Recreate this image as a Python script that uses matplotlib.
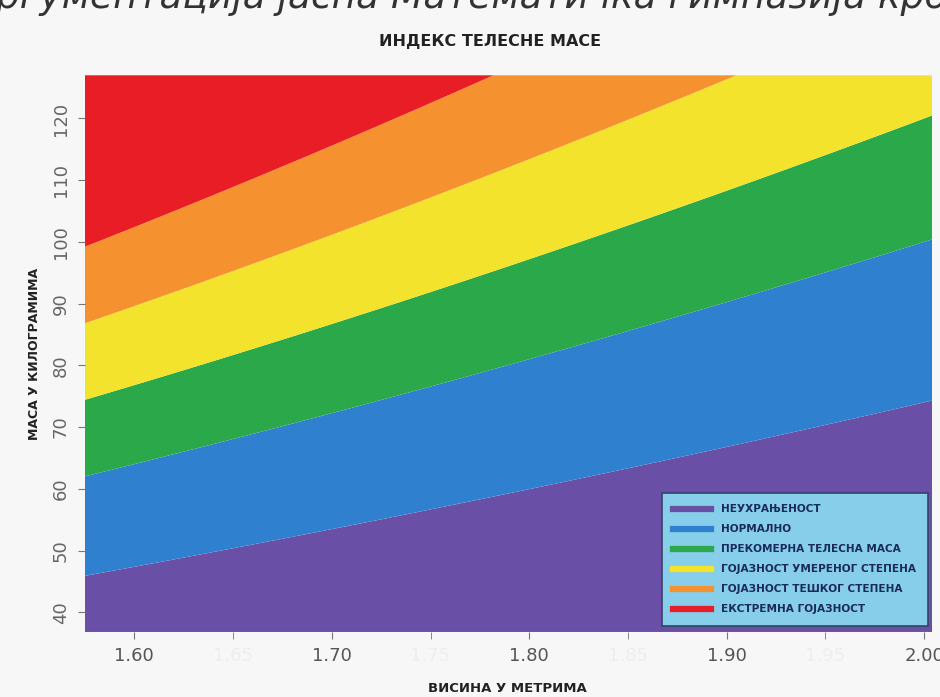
import numpy as np
import matplotlib
matplotlib.use("Agg")
import matplotlib.pyplot as plt
from matplotlib.lines import Line2D

# granice BMI kategorija
bmi_granice = [0, 18.5, 25, 30, 35, 40, 100]
kategorije = ["НЕУХРАЊЕНОСТ", "НОРМАЛНО", "ПРЕКОМЕРНА ТЕЛЕСНА МАСА",
              "ГОЈАЗНОСТ УМЕРЕНОГ СТЕПЕНА", "ГОЈАЗНОСТ ТЕШКОГ СТЕПЕНА",
              "ЕКСТРЕМНА ГОЈАЗНОСТ"]
boje = ["#6a4fa6", "#2f80cf", "#2aa84a", "#f3e32c", "#f5922f", "#e81d26"]

x_ticks = [1.60, 1.70, 1.80, 1.90, 2.00]
x_minor = [1.65, 1.75, 1.85, 1.95]
y_ticks = [40, 50, 60, 70, 80, 90, 100, 110, 120]

xmin, xmax = 1.575, 2.004
ymin, ymax = 36.8, 127.0

fig = plt.figure(figsize=(9.4, 6.97), dpi=100)
fig.patch.set_facecolor("#f7f7f7")
ax = fig.add_axes([0.0904, 0.0933, 0.9011, 0.7987])

# mreza visina x masa, pa BMI = m / h^2
H, M = np.meshgrid(np.linspace(xmin, xmax, 300), np.linspace(ymin, ymax, 300))
bmi = M / H**2
ax.contourf(H, M, bmi, levels=bmi_granice, colors=boje, antialiased=True)

ax.set_xlim(xmin, xmax)
ax.set_ylim(ymin, ymax)

ax.set_xticks(x_ticks)
ax.set_xticklabels(["%.2f" % v for v in x_ticks], color="#555555", fontsize=13)
ax.set_xticks(x_minor, minor=True)
ax.set_xticklabels(["%.2f" % v for v in x_minor], minor=True, color="#eeeeee", fontsize=13)
ax.set_yticks(y_ticks)
ax.set_yticklabels([str(v) for v in y_ticks], color="#666666", fontsize=13,
                   rotation=90, va="center")
ax.tick_params(axis="both", which="both", length=5, color="#777777", pad=6)
for s in ax.spines.values():
    s.set_visible(False)

ax.set_ylabel("МАСА У КИЛОГРАМИМА", fontsize=9, fontweight="bold", color="#222222",
              labelpad=8)
fig.text(0.521, 0.94, "ИНДЕКС ТЕЛЕСНЕ МАСЕ", ha="center", va="center",
         fontsize=11.5, fontweight="bold", color="#222222")
fig.text(0.54, 0.012, "ВИСИНА У МЕТРИМА", ha="center", va="center",
         fontsize=9.5, fontweight="bold", color="#222222")

# odsecen red teksta sa vrha strane
fig.text(0.5, 0.988, "аргументација јасна Математичка гимназија кроз",
         ha="center", va="baseline", fontsize=27, style="italic", color="#333333")

handles = [Line2D([0], [0], color=c, lw=4.5) for c in boje]
leg = ax.legend(handles, kategorije, loc="lower right",
                facecolor="#87ceeb", edgecolor="#334466", framealpha=1,
                fancybox=False, handlelength=3.6, handletextpad=0.9,
                borderpad=1.1, labelspacing=0.95, borderaxespad=0.3,
                prop={"size": 7.6, "weight": "bold"}, bbox_to_anchor=(0.9985, 0.005))
leg.get_frame().set_linewidth(1.2)
for t in leg.get_texts():
    t.set_color("#1a2a5a")

fig.savefig("out.png", dpi=100, facecolor=fig.get_facecolor())
